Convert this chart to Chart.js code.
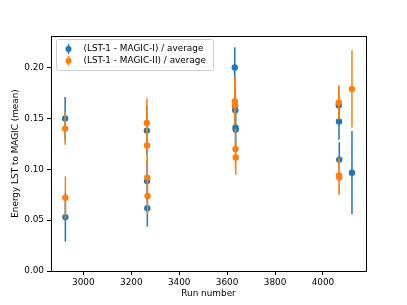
<!DOCTYPE html>
<html>
<head>
<meta charset="utf-8">
<script src="https://cdn.jsdelivr.net/npm/chart.js@4/dist/chart.umd.min.js"></script>
<style>
  html, body { margin: 0; padding: 0; background: #fff; }
  canvas { display: block; }
</style>
</head>
<body>
<canvas id="chart" width="407" height="305"></canvas>
<script>
// Energy ratio LST-1 / MAGIC per run, with per-run errors (matplotlib errorbar look)
const runsM1   = [2924, 2925, 3265, 3266, 3267, 3632, 3633, 3634, 3635, 3636, 4066, 4067, 4068, 4121];
const energyM1 = [0.150, 0.053, 0.138, 0.0885, 0.0617, 0.200, 0.162, 0.158, 0.141, 0.139, 0.163, 0.147, 0.1095, 0.0967];
const errM1    = [0.021, 0.024, 0.024, 0.020, 0.018, 0.020, 0.020, 0.020, 0.020, 0.020, 0.018, 0.018, 0.017, 0.041];

const runsM2   = [2924, 2925, 3265, 3266, 3267, 3268, 3632, 3633, 3635, 3636, 4066, 4067, 4068, 4121];
const energyM2 = [0.140, 0.072, 0.1455, 0.1233, 0.0918, 0.0737, 0.167, 0.163, 0.120, 0.1115, 0.1656, 0.094, 0.0918, 0.179];
const errM2    = [0.016, 0.021, 0.024, 0.020, 0.020, 0.018, 0.024, 0.020, 0.020, 0.017, 0.017, 0.018, 0.017, 0.038];

const xTicks = [3000, 3200, 3400, 3600, 3800, 4000];
const yTicks = [0.00, 0.05, 0.10, 0.15, 0.20];

const BLUE = '#1f77b4';
const ORANGE = '#ff7f0e';
const FONT = { family: 'DejaVu Sans', size: 8.9 };

function points(xs, ys, es) {
  return xs.map((x, i) => ({ x, y: ys[i], err: es[i] }));
}

// Вертикальные error bar'ы под маркерами своей серии
const errorBars = {
  id: 'errorBars',
  beforeDatasetDraw(chart, args) {
    const { ctx, scales: { x, y } } = chart;
    const ds = chart.data.datasets[args.index];
    ctx.save();
    ctx.strokeStyle = ds.backgroundColor;
    ctx.lineWidth = 1.5;
    ctx.beginPath();
    ds.data.forEach((p) => {
      const px = x.getPixelForValue(p.x);
      ctx.moveTo(px, y.getPixelForValue(p.y - p.err));
      ctx.lineTo(px, y.getPixelForValue(p.y + p.err));
    });
    ctx.stroke();
    ctx.restore();
  },
};

// Рамка вокруг области графика + легенда в стиле matplotlib
const frameAndLegend = {
  id: 'frameAndLegend',
  afterDraw(chart) {
    const { ctx, chartArea: a } = chart;
    ctx.save();
    ctx.strokeStyle = '#000';
    ctx.lineWidth = 1;
    ctx.strokeRect(Math.round(a.left) + 0.5, Math.round(a.top) + 0.5,
      Math.round(a.right - a.left), Math.round(a.bottom - a.top));

    const bx = a.left + 5, by = a.top + 3, bw = 157, bh = 31;
    ctx.fillStyle = 'rgba(255,255,255,0.8)';
    ctx.strokeStyle = '#cccccc';
    ctx.beginPath();
    ctx.roundRect(bx + 0.5, by + 0.5, bw, bh, 2);
    ctx.fill();
    ctx.stroke();

    ctx.font = `${FONT.size}px ${FONT.family}`;
    ctx.textBaseline = 'middle';
    chart.data.datasets.forEach((ds, i) => {
      const cy = by + 10 + i * 11.7;
      const cx = bx + 12.5;
      ctx.strokeStyle = ds.backgroundColor;
      ctx.lineWidth = 1.5;
      ctx.beginPath();
      ctx.moveTo(cx, cy - 5);
      ctx.lineTo(cx, cy + 5);
      ctx.stroke();
      ctx.fillStyle = ds.backgroundColor;
      ctx.beginPath();
      ctx.arc(cx, cy, 3, 0, Math.PI * 2);
      ctx.fill();
      ctx.fillStyle = '#000';
      ctx.fillText(ds.label, bx + 27.5, cy);
    });
    ctx.restore();
  },
};

new Chart(document.getElementById('chart'), {
  type: 'scatter',
  data: {
    datasets: [
      {
        label: '(LST-1 - MAGIC-I) / average',
        data: points(runsM1, energyM1, errM1),
        backgroundColor: BLUE,
        borderColor: BLUE,
        pointRadius: 3.2,
        borderWidth: 0,
        order: 2,
      },
      {
        label: '(LST-1 - MAGIC-II) / average',
        data: points(runsM2, energyM2, errM2),
        backgroundColor: ORANGE,
        borderColor: ORANGE,
        pointRadius: 3.2,
        borderWidth: 0,
        order: 1,
      },
    ],
  },
  options: {
    responsive: false,
    animation: false,
    devicePixelRatio: 1,
    layout: { padding: { left: 0, top: 36, right: 41, bottom: 0 } },
    plugins: { legend: { display: false }, tooltip: { enabled: false } },
    scales: {
      x: {
        type: 'linear',
        min: 2865,
        max: 4179.6,
        afterBuildTicks: (s) => { s.ticks = xTicks.map((v) => ({ value: v })); },
        afterFit: (s) => { s.height = 34; },
        ticks: { color: '#000', font: FONT, padding: 2, maxRotation: 0, autoSkip: false, callback: (v) => String(v) },
        grid: { drawOnChartArea: false, tickLength: 4, color: '#000' },
        border: { display: true, color: '#000' },
        title: { display: true, text: 'Run number', color: '#000', font: FONT, padding: { top: 0, bottom: 6 } },
      },
      y: {
        min: 0,
        max: 0.231,
        afterBuildTicks: (s) => { s.ticks = yTicks.map((v) => ({ value: v })); },
        afterFit: (s) => { s.width = 51; },
        ticks: { color: '#000', font: FONT, padding: 3, callback: (v) => v.toFixed(2) },
        grid: { drawOnChartArea: false, tickLength: 4, color: '#000' },
        border: { display: true, color: '#000' },
        title: { display: true, text: 'Energy LST to MAGIC (mean)', color: '#000', font: FONT, padding: { top: 10, bottom: 0 } },
      },
    },
  },
  plugins: [errorBars, frameAndLegend],
});
</script>
</body>
</html>
